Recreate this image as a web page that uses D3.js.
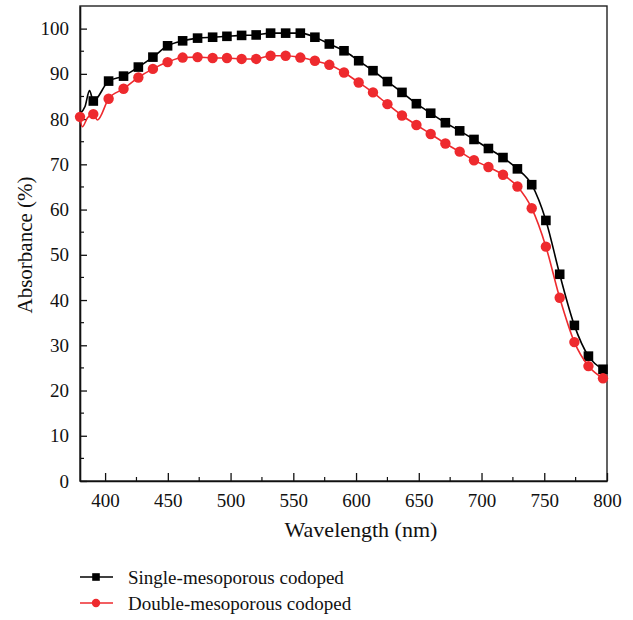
<!DOCTYPE html>
<html>
<head>
<meta charset="utf-8">
<script src="https://cdn.jsdelivr.net/npm/d3@7"></script>
<style>
  html, body { margin: 0; padding: 0; background: #fff; }
  svg { display: block; }
  text { font-family: "Liberation Serif", "DejaVu Serif", serif; fill: #111; }
</style>
</head>
<body>
<svg id="chart" width="633" height="620"></svg>
<script>
// ---- Data ----
const seriesNames = ["Single-mesoporous codoped", "Double-mesoporous codoped"];

// Marker wavelengths (nm)
const singleMarkerNm = [390.6, 402.8, 414.7, 426.5, 438.1, 449.8, 461.8, 473.7, 485.7, 497.1, 508.8, 520.4,
  531.9, 543.9, 555.6, 567.2, 578.7, 590.4, 602.1, 613.5, 625.0, 636.6, 648.1, 659.5, 671.2, 682.6,
  694.0, 705.5, 717.1, 728.6, 740.0, 751.3, 762.3, 774.0, 785.2, 796.8];
const singleMarkerVal = [84.0, 88.4, 89.5, 91.5, 93.7, 96.2, 97.3, 97.9, 98.1, 98.3, 98.5, 98.6,
  99.0, 99.0, 99.0, 98.1, 96.6, 95.1, 92.9, 90.7, 88.3, 85.9, 83.4, 81.3, 79.2, 77.4,
  75.5, 73.5, 71.5, 69.0, 65.5, 57.6, 45.7, 34.4, 27.6, 24.7];

const doubleMarkerNm = [380.0, 390.6, 402.8, 414.7, 426.5, 438.1, 449.8, 461.8, 473.7, 485.7, 497.1, 508.8, 520.4,
  531.9, 543.9, 555.6, 567.2, 578.7, 590.4, 602.1, 613.5, 625.0, 636.6, 648.1, 659.5, 671.2, 682.6,
  694.0, 705.5, 717.1, 728.6, 740.0, 751.3, 762.3, 774.0, 785.2, 796.8];
const doubleMarkerVal = [80.5, 81.1, 84.5, 86.7, 89.2, 91.1, 92.6, 93.6, 93.7, 93.5, 93.5, 93.3, 93.3,
  94.0, 94.0, 93.6, 92.9, 92.0, 90.3, 88.1, 85.9, 83.3, 80.8, 78.7, 76.7, 74.6, 72.8,
  70.9, 69.4, 67.7, 65.1, 60.3, 51.8, 40.5, 30.7, 25.4, 22.7];

// Extra (unmarked) spectrum points near the noisy short-wavelength edge
const singleExtraNm = [380.0, 384.0, 387.6];
const singleExtraVal = [81.2, 82.8, 86.3];
const doubleExtraNm = [381.8, 386.0, 393.9];
const doubleExtraVal = [78.3, 80.3, 79.8];

const xTicks = [400, 450, 500, 550, 600, 650, 700, 750, 800];
const yTicks = [0, 10, 20, 30, 40, 50, 60, 70, 80, 90, 100];
const xLabel = "Wavelength (nm)";
const yLabel = "Absorbance (%)";

const colors = ["#000000", "#ee2a2e"];

// ---- Build ----
const svg = d3.select("#chart");
const m = { left: 80, right: 607, top: 6, bottom: 481 };

const x = d3.scaleLinear().domain([380, 800]).range([m.left, m.right]);
const y = d3.scaleLinear().domain([0, 105]).range([m.bottom, m.top]);

function zipPts(nm, v) { return nm.map((d, i) => ({ x: d, y: v[i] })); }
const singleMarkers = zipPts(singleMarkerNm, singleMarkerVal);
const doubleMarkers = zipPts(doubleMarkerNm, doubleMarkerVal);
const singleLine = singleMarkers.concat(zipPts(singleExtraNm, singleExtraVal)).sort((a, b) => a.x - b.x);
const doubleLine = doubleMarkers.concat(zipPts(doubleExtraNm, doubleExtraVal)).sort((a, b) => a.x - b.x);

// Frame (top & right)
svg.append("rect")
  .attr("x", m.left).attr("y", m.top)
  .attr("width", m.right - m.left).attr("height", m.bottom - m.top)
  .attr("fill", "none").attr("stroke", "#222").attr("stroke-width", 1.4);

// Y axis: major ticks inward
const yAxis = d3.axisLeft(y).tickValues(yTicks).tickSizeInner(-7).tickSizeOuter(0).tickPadding(11)
  .tickFormat(d3.format("d"));
const gy = svg.append("g").attr("transform", `translate(${m.left},0)`).call(yAxis);
gy.select(".domain").attr("stroke", "#111").attr("stroke-width", 1.6);
gy.selectAll(".tick line").attr("stroke", "#111").attr("stroke-width", 1.3);
gy.selectAll(".tick text").style("font-size", "19px").attr("fill", "#111")
  .style("font-family", "'Liberation Serif', serif");
// minor y ticks
const yMinor = d3.range(5, 105, 10);
svg.append("g").selectAll("line").data(yMinor).join("line")
  .attr("x1", m.left).attr("x2", m.left + 4)
  .attr("y1", d => y(d)).attr("y2", d => y(d))
  .attr("stroke", "#111").attr("stroke-width", 1.2);

// X axis
const xAxis = d3.axisBottom(x).tickValues(xTicks).tickSizeInner(-8).tickSizeOuter(0).tickPadding(8)
  .tickFormat(d3.format("d"));
const gx = svg.append("g").attr("transform", `translate(0,${m.bottom})`).call(xAxis);
gx.select(".domain").attr("stroke", "#111").attr("stroke-width", 1.6);
gx.selectAll(".tick line").attr("stroke", "#111").attr("stroke-width", 1.3);
gx.selectAll(".tick text").style("font-size", "19px").attr("fill", "#111")
  .attr("dy", "0.95em")
  .style("font-family", "'Liberation Serif', serif");
const xMinor = d3.range(425, 800, 50);
svg.append("g").selectAll("line").data(xMinor).join("line")
  .attr("x1", d => x(d)).attr("x2", d => x(d))
  .attr("y1", m.bottom).attr("y2", m.bottom - 4)
  .attr("stroke", "#111").attr("stroke-width", 1.2);

// Axis titles
svg.append("text").attr("x", 361).attr("y", 537)
  .attr("text-anchor", "middle").style("font-size", "22px").text(xLabel);
svg.append("text").attr("transform", `translate(32,245) rotate(-90)`)
  .attr("text-anchor", "middle").style("font-size", "21px").text(yLabel);

// Lines
const line = d3.line().x(d => x(d.x)).y(d => y(d.y)).curve(d3.curveMonotoneX);
const plot = svg.append("g");
plot.append("path").datum(singleLine).attr("d", line)
  .attr("fill", "none").attr("stroke", colors[0]).attr("stroke-width", 1.6);
plot.selectAll(".sq").data(singleMarkers).join("rect").attr("class", "sq")
  .attr("x", d => x(d.x) - 4.8).attr("y", d => y(d.y) - 4.8)
  .attr("width", 9.6).attr("height", 9.6).attr("fill", colors[0]);

plot.append("path").datum(doubleLine).attr("d", line)
  .attr("fill", "none").attr("stroke", colors[1]).attr("stroke-width", 1.6);
plot.selectAll(".ci").data(doubleMarkers).join("circle").attr("class", "ci")
  .attr("cx", d => x(d.x)).attr("cy", d => y(d.y)).attr("r", 5.2).attr("fill", colors[1]);

// Legend
const legend = svg.append("g");
const legY = [577, 603];
seriesNames.forEach((name, i) => {
  const g = legend.append("g");
  g.append("line").attr("x1", 80).attr("x2", 113).attr("y1", legY[i]).attr("y2", legY[i])
    .attr("stroke", colors[i]).attr("stroke-width", 1.6);
  if (i === 0) {
    g.append("rect").attr("x", 96 - 3.8).attr("y", legY[i] - 3.8).attr("width", 7.6).attr("height", 7.6)
      .attr("fill", colors[i]);
  } else {
    g.append("circle").attr("cx", 96).attr("cy", legY[i]).attr("r", 4.2).attr("fill", colors[i]);
  }
  g.append("text").attr("x", 128).attr("y", legY[i] + 6.5).style("font-size", "19px").text(name);
});
</script>
</body>
</html>
